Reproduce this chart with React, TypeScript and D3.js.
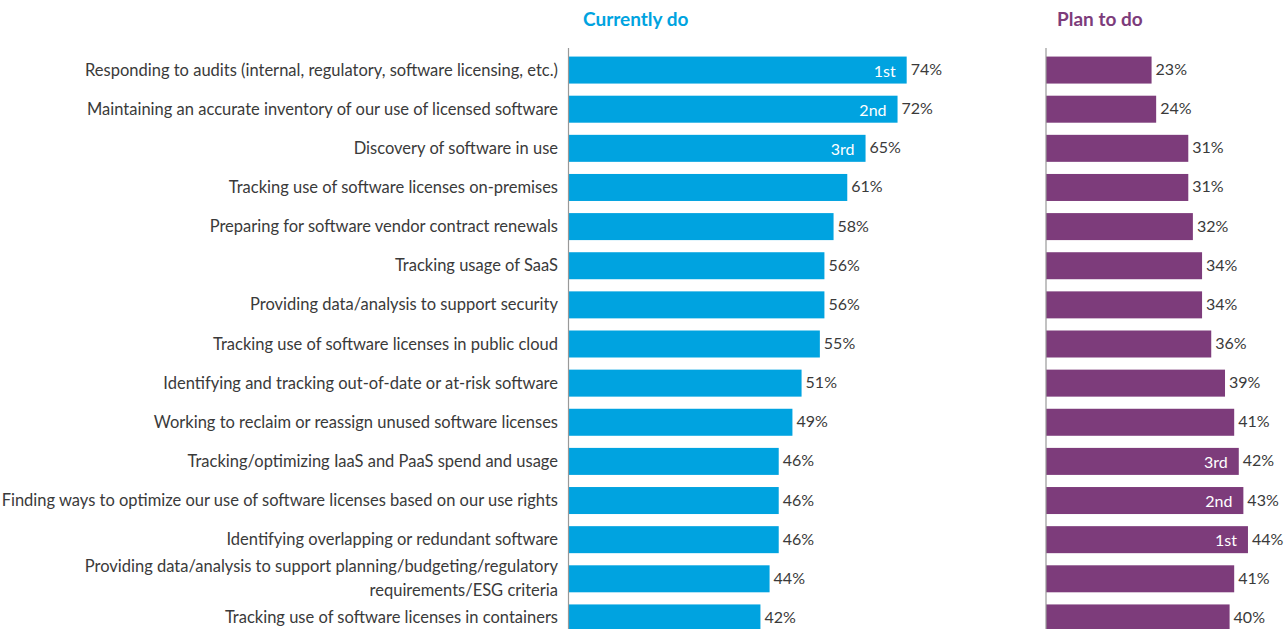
import React from "react";
import * as d3 from "d3";

const categories: string[][] = [
  ["Responding to audits (internal, regulatory, software licensing, etc.)"],
  ["Maintaining an accurate inventory of our use of licensed software"],
  ["Discovery of software in use"],
  ["Tracking use of software licenses on-premises"],
  ["Preparing for software vendor contract renewals"],
  ["Tracking usage of SaaS"],
  ["Providing data/analysis to support security"],
  ["Tracking use of software licenses in public cloud"],
  ["Identifying and tracking out-of-date or at-risk software"],
  ["Working to reclaim or reassign unused software licenses"],
  ["Tracking/optimizing IaaS and PaaS spend and usage"],
  ["Finding ways to optimize our use of software licenses based on our use rights"],
  ["Identifying overlapping or redundant software"],
  ["Providing data/analysis to support planning/budgeting/regulatory", "requirements/ESG criteria"],
  ["Tracking use of software licenses in containers"],
];
const currentlyDo = [74, 72, 65, 61, 58, 56, 56, 55, 51, 49, 46, 46, 46, 44, 42];
const planToDo = [23, 24, 31, 31, 32, 34, 34, 36, 39, 41, 42, 43, 44, 41, 40];
const currentRanks: (string | null)[] = ["1st", "2nd", "3rd", null, null, null, null, null, null, null, null, null, null, null, null];
const planRanks: (string | null)[] = [null, null, null, null, null, null, null, null, null, null, "3rd", "2nd", "1st", null, null];

const W = 1286;
const H = 629;
const FONT = "Lato, 'Open Sans', sans-serif";
const BLUE = "#00A3E0";
const PURPLE = "#7D3C7B";
const TEXT = "#3a3a3a";

export default function App() {
  const idx = categories.map((_, i) => String(i));
  const y = d3.scaleBand().domain(idx).range([50.5, 637.5]).paddingInner(0.31).paddingOuter(0.155);
  const xL = d3.scaleLinear().domain([0, 100]).range([568.5, 568.5 + 457]);
  const xR = d3.scaleLinear().domain([0, 100]).range([1046, 1046 + 459]);
  const bh = y.bandwidth();

  const panel = (vals: number[], ranks: (string | null)[], x: d3.ScaleLinear<number, number>, color: string, key: string) => (
    <g key={key}>
      {vals.map((v, i) => {
        const y0 = y(String(i))!;
        const cy = y0 + bh / 2;
        return (
          <g key={i}>
            <rect x={x(0)} y={y0} width={x(v) - x(0)} height={bh} fill={color} />
            {ranks[i] && (
              <text x={x(v) - 11} y={cy + 6.5} textAnchor="end" fill="#fff" fontSize={16}>
                {ranks[i]}
              </text>
            )}
            <text x={x(v) + 4} y={cy + 5} fill={TEXT} fontSize={16}>
              {v}%
            </text>
          </g>
        );
      })}
      <line x1={x(0)} x2={x(0)} y1={48} y2={H} stroke="#999" strokeWidth={1.2} />
    </g>
  );

  return (
    <svg width={W} height={H} style={{ position: "absolute", left: 0, top: 0, fontFamily: FONT }}>
      <rect width={W} height={H} fill="#fff" />
      <text x={583} y={26} fill={BLUE} fontSize={19} fontWeight={700}>Currently do</text>
      <text x={1057} y={26} fill={PURPLE} fontSize={19} fontWeight={700}>Plan to do</text>
      {categories.map((lines, i) => {
        const cy = y(String(i))! + bh / 2;
        const lh = 24;
        const start = cy - ((lines.length - 1) * lh) / 2;
        return (
          <text key={i} textAnchor="end" fill={TEXT} fontSize={16.5}>
            {lines.map((l, j) => (
              <tspan key={j} x={558} y={start + j * lh + 5.5}>{l}</tspan>
            ))}
          </text>
        );
      })}
      {panel(currentlyDo, currentRanks, xL, BLUE, "L")}
      {panel(planToDo, planRanks, xR, PURPLE, "R")}
    </svg>
  );
}
